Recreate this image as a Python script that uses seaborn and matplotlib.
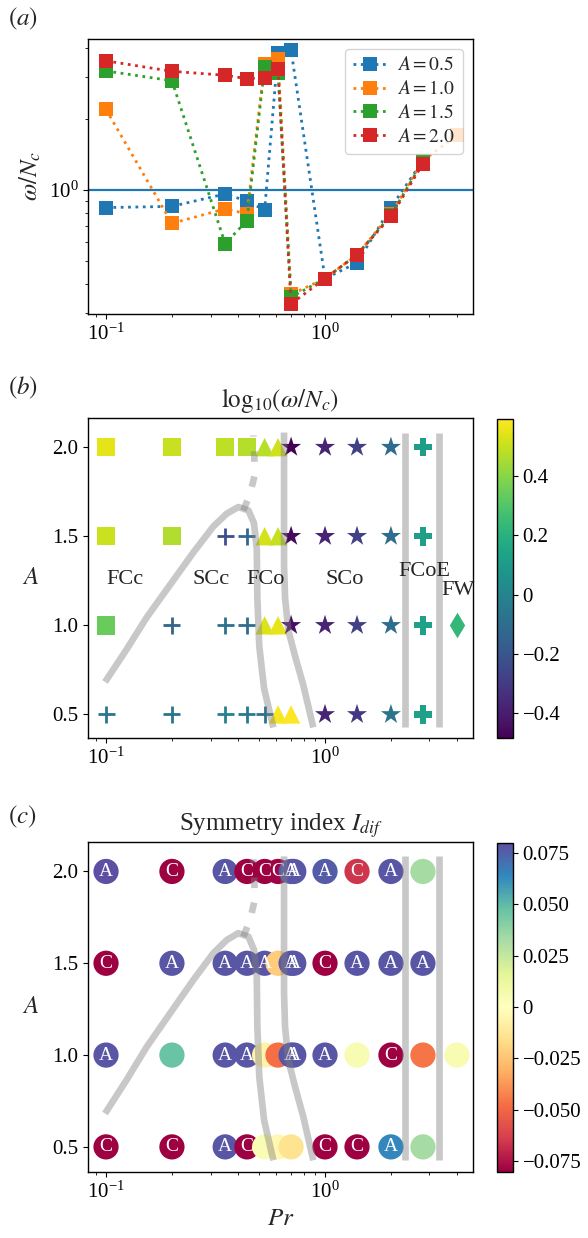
import numpy as np
import pandas as pd
import matplotlib
matplotlib.use("Agg")
import matplotlib.pyplot as plt
import seaborn as sns
from matplotlib.colors import Normalize
from matplotlib.cm import ScalarMappable
from matplotlib.ticker import FuncFormatter, NullFormatter, FixedLocator

# ---------------------------------------------------------------- data
PR = [0.1, 0.2, 0.35, 0.44, 0.53, 0.61, 0.7, 1.0, 1.4, 2.0, 2.8, 4.0]
AMPS = [0.5, 1.0, 1.5, 2.0]

# dominant frequency omega / N_c (the A = 1.0 run extends to Pr = 4)
OMEGA_A05 = [0.84, 0.85, 0.96, 0.895, 0.82, 3.82, 3.90, 0.42, 0.49, 0.84, 1.33]
OMEGA_A10 = [2.19, 0.72, 0.83, 0.79, 3.43, 3.57, 0.36, 0.42, 0.53, 0.79, 1.33, 1.70]
OMEGA_A15 = [3.19, 2.90, 0.59, 0.74, 3.32, 3.13, 0.35, 0.42, 0.53, 0.78, 1.32]
OMEGA_A20 = [3.52, 3.18, 3.06, 2.96, 2.99, 3.26, 0.328, 0.42, 0.53, 0.77, 1.29]

# flow regime of every run
REGIME_A05 = ["SCc", "SCc", "SCc", "SCc", "SCc", "FCo", "FCo", "SCo", "SCo", "SCo", "FCoE"]
REGIME_A10 = ["FCc", "SCc", "SCc", "SCc", "FCo", "FCo", "SCo", "SCo", "SCo", "SCo", "FCoE", "FW"]
REGIME_A15 = ["FCc", "FCc", "SCc", "SCc", "FCo", "FCo", "SCo", "SCo", "SCo", "SCo", "FCoE"]
REGIME_A20 = ["FCc", "FCc", "FCc", "FCc", "FCo", "FCo", "SCo", "SCo", "SCo", "SCo", "FCoE"]

# symmetry index I_dif with its A / C classification
PR_SYM_A05 = [0.1, 0.2, 0.35, 0.44, 0.53, 0.61, 0.7, 1.0, 1.4, 2.0, 2.8]
PR_SYM_A10 = [0.1, 0.2, 0.35, 0.44, 0.53, 0.61, 0.7, 0.72, 1.0, 1.4, 2.0, 2.8, 4.0]
PR_SYM_A15 = [0.1, 0.2, 0.35, 0.44, 0.53, 0.61, 0.7, 0.72, 1.0, 1.4, 2.0, 2.8]
PR_SYM_A20 = [0.1, 0.2, 0.35, 0.44, 0.53, 0.61, 0.7, 0.72, 1.0, 1.4, 2.0, 2.8]
IDIF_A05 = [-0.08, -0.08, 0.078, -0.08, 0.004, -0.004, -0.014, -0.08, -0.08, 0.064, 0.033]
IDIF_A10 = [0.078, 0.047, 0.078, 0.078, -0.006, -0.047, 0.078, 0.078, 0.078, 0.005, -0.08, -0.046, 0.005]
IDIF_A15 = [-0.08, 0.078, 0.078, 0.078, 0.078, -0.022, 0.078, 0.078, -0.08, 0.078, 0.078, 0.078]
IDIF_A20 = [0.08, -0.08, 0.078, -0.08, -0.08, -0.079, 0.078, 0.078, 0.076, -0.066, 0.078, 0.033]
SYM_A05 = ["C", "C", "A", "C", "", "", "", "C", "C", "A", ""]
SYM_A10 = ["A", "", "A", "A", "", "", "A", "A", "A", "", "C", "", ""]
SYM_A15 = ["C", "A", "A", "A", "A", "", "A", "A", "C", "A", "A", "A"]
SYM_A20 = ["A", "C", "A", "C", "C", "C", "A", "A", "A", "C", "A", ""]

# regime boundaries in the (Pr, A) plane
BOUND_LEFT_PR = [0.099, 0.124, 0.1535, 0.196, 0.2505, 0.309, 0.356, 0.402,
                 0.447, 0.474, 0.488, 0.491, 0.501, 0.527, 0.581]
BOUND_LEFT_A = [0.682, 0.864, 1.045, 1.227, 1.409, 1.555, 1.627, 1.664,
                1.645, 1.573, 1.427, 1.154, 0.882, 0.645, 0.427]
BOUND_DOT_PR = [0.4236, 0.455, 0.479, 0.471]
BOUND_DOT_A = [1.644, 1.738, 1.850, 2.066]
BOUND_RIGHT_PR = [0.650, 0.650, 0.650, 0.657, 0.680, 0.730, 0.796, 0.884]
BOUND_RIGHT_A = [2.082, 1.70, 1.336, 1.154, 0.973, 0.827, 0.664, 0.427]
BOUND_VERT_PR = [2.33, 3.32]
BOUND_VERT_A = [0.427, 2.082]

REGION_NAMES = ["FCc", "SCc", "FCo", "SCo", "FCoE", "FW"]
REGION_PR = [0.1007, 0.249, 0.439, 1.0, 2.16, 3.41]
REGION_A = [1.257, 1.257, 1.257, 1.257, 1.30, 1.197]

MARKERS = {"FCc": "s", "SCc": "+", "FCo": "^", "SCo": "*", "FCoE": "P", "FW": "d"}
MARKER_SIZE = {"FCc": 175, "SCc": 150, "FCo": 175, "SCo": 230, "FCoE": 180, "FW": 170}

# ---------------------------------------------------------------- style
sns.set_theme(style="ticks")
plt.rcParams.update({
    "font.family": ["Liberation Serif", "DejaVu Serif"],
    "mathtext.fontset": "stix",
    "font.size": 15,
    "axes.labelsize": 18,
    "axes.titlesize": 18,
    "xtick.labelsize": 15,
    "ytick.labelsize": 15,
    "axes.edgecolor": "black",
    "axes.linewidth": 1.0,
    "xtick.color": "black",
    "ytick.color": "black",
    "xtick.major.size": 3.5,
    "ytick.major.size": 3.5,
    "xtick.minor.size": 2.0,
    "ytick.minor.size": 2.0,
    "xtick.major.width": 0.8,
    "ytick.major.width": 0.8,
    "xtick.minor.width": 0.6,
    "ytick.minor.width": 0.6,
    "axes.unicode_minus": True,
})

W, H = 588, 1238
fig = plt.figure(figsize=(W / 100, H / 100), dpi=100)


def box(left, top, right, bottom):
    return [left / W, 1 - bottom / H, (right - left) / W, (bottom - top) / H]


ax_a = fig.add_axes(box(88.3, 39, 472.7, 313.5))
ax_b = fig.add_axes(box(88.3, 418.3, 472.7, 738.3))
ax_c = fig.add_axes(box(88.3, 841.7, 472.7, 1171.5))
cax_b = fig.add_axes(box(496.7, 419.3, 513.0, 738.3))
cax_c = fig.add_axes(box(496.7, 842.7, 513.0, 1171.5))

XLIM = (0.0830, 4.725)
YLIM_A = (0.366, 2.162)

# ---------------------------------------------------------------- (a)
palette = sns.color_palette("tab10")
ax_a.axhline(1.0, color=palette[0], lw=1.6, zorder=1.5)
for i, (amp, om) in enumerate(zip(AMPS, [OMEGA_A05, OMEGA_A10, OMEGA_A15, OMEGA_A20])):
    sns.lineplot(x=PR[:len(om)], y=om, ax=ax_a, color=palette[i], marker="s",
                 markersize=9.5, markeredgewidth=0, linestyle=":", linewidth=2.0,
                 label=f"$A = {amp}$", zorder=2)
ax_a.set_xscale("log")
ax_a.set_yscale("log")
ax_a.set_xlim(*XLIM)
ax_a.set_ylim(0.2985, 4.36)
ax_a.yaxis.set_minor_formatter(NullFormatter())
ax_a.xaxis.set_minor_formatter(NullFormatter())
ax_a.set_ylabel(r"$\omega/N_c$")
ax_a.set_xlabel("")
ax_a.legend(loc="upper right", fontsize=14, labelspacing=0.3, borderpad=0.4,
            handlelength=1.8, handletextpad=0.5, framealpha=0.8)

# ---------------------------------------------------------------- (b)
rows = []
for amp, om, reg in zip(AMPS, [OMEGA_A05, OMEGA_A10, OMEGA_A15, OMEGA_A20],
                        [REGIME_A05, REGIME_A10, REGIME_A15, REGIME_A20]):
    for pr, w, r in zip(PR, om, reg):
        rows.append({"Pr": pr, "A": amp, "logw": np.log10(w), "regime": r})
df_b = pd.DataFrame(rows)
norm_b = Normalize(df_b["logw"].min(), df_b["logw"].max())

for reg, mk in MARKERS.items():
    sub = df_b[df_b["regime"] == reg]
    lw = 2.0 if mk == "+" else 0
    sns.scatterplot(data=sub, x="Pr", y="A", hue="logw", palette="viridis",
                    hue_norm=norm_b, marker=mk, s=MARKER_SIZE[reg], linewidth=lw,
                    legend=False, ax=ax_b, zorder=2)

for name, px, py in zip(REGION_NAMES, REGION_PR, REGION_A):
    ax_b.text(px, py, name, fontsize=16, ha="left", va="center", zorder=5)

# ---------------------------------------------------------------- (c)
rows = []
for amp, prs, vals, labs in zip(AMPS, [PR_SYM_A05, PR_SYM_A10, PR_SYM_A15, PR_SYM_A20],
                                [IDIF_A05, IDIF_A10, IDIF_A15, IDIF_A20],
                                [SYM_A05, SYM_A10, SYM_A15, SYM_A20]):
    for pr, v, lab in zip(prs, vals, labs):
        rows.append({"Pr": pr, "A": amp, "idif": v, "sym": lab})
df_c = pd.DataFrame(rows)
norm_c = Normalize(-0.08, 0.08)
sns.scatterplot(data=df_c, x="Pr", y="A", hue="idif", palette="Spectral",
                hue_norm=norm_c, s=330, linewidth=0, legend=False, ax=ax_c, zorder=2)
for _, r in df_c.iterrows():
    if r["sym"]:
        ax_c.text(r["Pr"], r["A"], r["sym"], color="white", fontsize=14,
                  ha="center", va="center", zorder=2.5)

# ---------------------------------------------------------------- boundaries + axes
gray = dict(color="gray", alpha=0.43, lw=4.8, solid_capstyle="butt", zorder=4)
for ax in (ax_b, ax_c):
    ax.plot(BOUND_LEFT_PR, BOUND_LEFT_A, **gray)
    ax.plot(BOUND_RIGHT_PR, BOUND_RIGHT_A, **gray)
    ax.plot(BOUND_DOT_PR, BOUND_DOT_A, color="gray", alpha=0.43, lw=4.8,
            linestyle=(0, (1.6, 2.2)), dash_capstyle="butt", zorder=4)
    for xv in BOUND_VERT_PR:
        ax.plot([xv, xv], BOUND_VERT_A, **gray)
    ax.set_xscale("log")
    ax.set_xlim(*XLIM)
    ax.set_ylim(*YLIM_A)
    ax.yaxis.set_major_locator(FixedLocator(AMPS))
    ax.yaxis.set_major_formatter(FuncFormatter(lambda v, p: f"{v:.1f}"))
    ax.xaxis.set_minor_formatter(NullFormatter())
    ax.set_ylabel("$A$", rotation=0, va="center", ha="center")
    ax.yaxis.set_label_coords(-0.15, 0.5)
    ax.set_xlabel("")

ax_b.set_title(r"$\mathrm{log}_{10}(\omega/N_c)$", pad=8)
ax_c.set_title(r"Symmetry index $I_{dif}$", pad=8)
ax_c.set_xlabel("$Pr$")

# ---------------------------------------------------------------- colourbars
def fmt_tick(decimals):
    def f(v, pos):
        if abs(v) < 1e-12:
            return "0"
        return f"{v:.{decimals}f}".replace("-", "\u2212")
    return FuncFormatter(f)


cb_b = fig.colorbar(ScalarMappable(norm=norm_b, cmap="viridis"), cax=cax_b,
                    ticks=[-0.4, -0.2, 0.0, 0.2, 0.4])
cb_b.ax.yaxis.set_major_formatter(fmt_tick(1))
cb_c = fig.colorbar(ScalarMappable(norm=norm_c, cmap="Spectral"), cax=cax_c,
                    ticks=[-0.075, -0.05, -0.025, 0.0, 0.025, 0.05, 0.075])
cb_c.ax.yaxis.set_major_formatter(fmt_tick(3))
for cb in (cb_b, cb_c):
    cb.outline.set_linewidth(1.0)
    cb.ax.tick_params(labelsize=15)

# panel tags
for tag, yc in (("a", 19), ("b", 388), ("c", 817)):
    fig.text(8 / W, 1 - yc / H, f"$({tag})$", fontsize=18, ha="left", va="center")

fig.savefig("out.png", dpi=100)
